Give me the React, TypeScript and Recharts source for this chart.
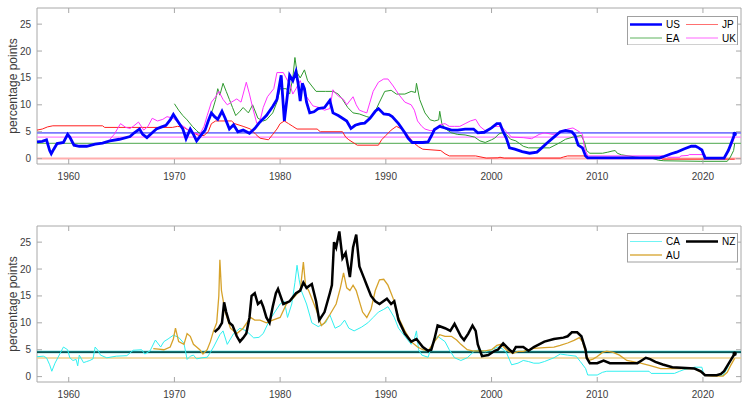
import React from 'react';
import { LineChart, Line, XAxis, YAxis, ReferenceLine, ReferenceArea } from 'recharts';

type Pt = [number, number];

const X_TICKS = [1960, 1970, 1980, 1990, 2000, 2010, 2020];
const Y_TICKS = [0, 5, 10, 15, 20, 25];
const X_DOMAIN: [number, number] = [1957, 2023.6];
const Y_DOMAIN: [number, number] = [-1, 28];
const Y_LABEL = 'percentage points';

const US: Pt[] = [[1957.0,3.1],[1957.5,3.2],[1957.9,3.5],[1958.2,1.5],[1958.35,0.9],[1958.6,1.8],[1958.9,2.8],[1959.5,3.0],[1959.9,4.5],[1960.1,4.0],[1960.5,2.5],[1961.0,2.3],[1961.7,2.3],[1962.5,2.7],[1963.2,2.9],[1963.9,3.3],[1964.8,3.6],[1965.8,4.1],[1966.2,4.8],[1966.7,5.5],[1967.0,4.5],[1967.4,3.9],[1967.9,4.8],[1968.3,5.5],[1968.8,5.9],[1969.2,6.2],[1969.6,7.2],[1969.9,8.2],[1970.3,7.0],[1970.8,5.5],[1971.1,3.7],[1971.5,5.5],[1971.8,4.5],[1972.1,3.3],[1972.5,4.3],[1972.9,5.3],[1973.2,7.0],[1973.5,8.5],[1973.8,7.8],[1974.1,7.3],[1974.5,8.8],[1974.8,7.5],[1975.2,5.5],[1975.6,6.3],[1976.0,5.0],[1976.5,5.3],[1977.1,4.7],[1977.6,5.6],[1978.0,6.6],[1978.7,8.0],[1979.3,9.7],[1979.7,11.0],[1980.1,15.5],[1980.4,7.0],[1980.7,12.0],[1980.9,15.5],[1981.2,14.5],[1981.5,16.2],[1981.7,14.0],[1981.9,10.7],[1982.1,14.0],[1982.3,13.0],[1982.5,10.5],[1982.8,8.5],[1983.2,8.7],[1983.6,9.3],[1984.2,9.5],[1984.7,10.8],[1985.0,8.5],[1985.5,8.0],[1985.9,7.5],[1986.3,7.0],[1986.7,5.6],[1987.1,6.2],[1987.6,6.5],[1988.0,6.6],[1988.5,7.5],[1989.0,8.8],[1989.3,9.3],[1989.8,8.3],[1990.3,8.2],[1990.6,7.8],[1991.2,6.5],[1991.8,4.8],[1992.1,3.8],[1992.5,3.0],[1993.0,3.0],[1993.5,3.0],[1994.0,3.1],[1994.3,4.2],[1994.6,5.4],[1995.1,6.0],[1995.6,5.7],[1996.2,5.3],[1996.8,5.3],[1997.5,5.5],[1998.3,5.5],[1998.7,4.8],[1999.3,4.9],[2000.0,5.7],[2000.5,6.5],[2000.8,6.5],[2001.1,5.0],[2001.4,3.8],[2001.7,2.0],[2002.2,1.75],[2002.9,1.3],[2003.6,1.0],[2004.3,1.2],[2004.7,1.9],[2005.2,2.8],[2005.9,4.0],[2006.5,5.0],[2007.0,5.25],[2007.6,5.0],[2007.9,4.3],[2008.2,2.5],[2008.6,2.0],[2008.9,0.5],[2009.1,0.15],[2015.9,0.15],[2016.3,0.4],[2017.0,0.9],[2017.5,1.2],[2018.2,1.8],[2018.9,2.3],[2019.3,2.3],[2019.6,2.0],[2019.9,1.6],[2020.2,0.1],[2022.0,0.1],[2022.4,1.5],[2022.7,3.0],[2023.0,4.6]];

const JP: Pt[] = [[1957.0,5.3],[1957.5,5.5],[1958.0,5.9],[1958.5,6.1],[1963.2,6.1],[1963.4,5.8],[1969.8,5.8],[1970.3,6.0],[1970.9,5.8],[1971.3,5.3],[1971.8,4.8],[1972.3,4.3],[1972.8,4.3],[1973.2,5.0],[1973.5,6.5],[1973.9,7.0],[1975.4,7.0],[1975.7,6.5],[1976.5,6.0],[1977.2,5.5],[1977.7,4.5],[1978.1,3.8],[1978.9,3.5],[1979.3,4.5],[1979.7,5.5],[1980.0,6.5],[1980.4,7.0],[1980.8,6.5],[1981.2,6.0],[1981.6,5.5],[1983.5,5.5],[1983.8,5.0],[1985.9,5.0],[1986.2,4.0],[1986.5,3.5],[1986.9,3.0],[1987.3,2.5],[1989.3,2.5],[1989.6,3.5],[1990.0,4.3],[1990.5,5.3],[1991.0,6.0],[1991.4,5.6],[1991.8,5.0],[1992.2,4.0],[1992.6,3.0],[1993.1,2.2],[1993.5,1.75],[1995.2,1.5],[1995.6,0.9],[1996.0,0.5],[1998.5,0.5],[1999.0,0.3],[1999.5,0.1],[2000.6,0.15],[2000.8,0.25],[2001.2,0.1],[2006.5,0.1],[2006.8,0.3],[2007.2,0.5],[2008.8,0.5],[2009.0,0.1],[2016.0,0.1],[2016.2,-0.1],[2023.0,-0.1]];

const EA: Pt[] = [[1970.0,10.2],[1970.4,9.0],[1970.8,8.0],[1971.2,7.2],[1971.7,6.0],[1972.1,5.2],[1972.5,4.5],[1972.9,5.5],[1973.2,7.0],[1973.6,9.0],[1973.9,11.0],[1974.1,13.0],[1974.3,11.8],[1974.6,14.0],[1974.9,12.5],[1975.2,11.0],[1975.5,9.5],[1975.8,8.0],[1976.2,8.8],[1976.5,9.5],[1977.0,8.5],[1977.4,10.0],[1977.9,7.5],[1978.4,7.0],[1978.7,7.2],[1979.3,8.5],[1979.7,10.5],[1980.0,13.0],[1980.6,13.0],[1980.9,12.0],[1981.2,15.0],[1981.4,18.8],[1981.6,16.0],[1981.9,15.0],[1982.3,16.5],[1982.6,14.5],[1983.0,13.5],[1983.4,12.5],[1984.3,12.5],[1985.0,12.5],[1985.5,12.0],[1985.9,11.0],[1986.4,9.5],[1986.9,8.5],[1987.5,8.3],[1988.2,7.8],[1988.6,7.6],[1989.0,8.8],[1989.4,10.5],[1989.9,12.5],[1990.5,12.7],[1991.0,12.0],[1991.8,12.0],[1992.4,12.5],[1992.8,12.3],[1992.9,14.0],[1993.2,11.0],[1993.7,8.5],[1994.2,7.2],[1994.6,7.0],[1995.0,7.2],[1995.1,8.8],[1995.3,6.5],[1995.6,5.6],[1996.2,4.8],[1996.8,4.5],[1997.5,4.4],[1998.4,4.0],[1998.9,3.3],[1999.4,3.0],[2000.0,3.5],[2000.3,3.8],[2000.7,4.6],[2001.0,4.8],[2001.4,4.5],[2001.8,3.6],[2002.3,3.3],[2003.0,2.3],[2003.5,2.0],[2005.5,2.0],[2006.0,2.5],[2006.5,3.0],[2007.0,3.6],[2007.7,4.0],[2008.5,4.3],[2008.8,3.0],[2009.0,1.5],[2009.3,1.0],[2010.5,1.0],[2011.0,1.2],[2011.4,1.4],[2011.7,1.5],[2011.9,1.0],[2012.3,0.7],[2013.0,0.5],[2013.6,0.3],[2014.5,0.1],[2015.2,0.05],[2015.8,-0.3],[2016.3,-0.4],[2019.8,-0.5],[2022.3,-0.5],[2022.6,0.3],[2022.9,1.5],[2023.0,2.8]];

const UK: Pt[] = [[1963.9,3.6],[1964.3,4.5],[1964.9,6.5],[1965.4,5.8],[1965.8,5.6],[1966.1,6.0],[1966.6,6.8],[1967.1,5.3],[1967.5,6.0],[1967.9,7.5],[1968.4,7.0],[1968.9,7.3],[1969.3,7.8],[1969.9,7.5],[1970.5,6.5],[1971.2,5.5],[1971.8,4.8],[1972.4,4.5],[1972.8,6.0],[1973.1,8.0],[1973.5,10.5],[1973.9,11.5],[1974.2,12.5],[1974.6,11.0],[1975.0,10.0],[1975.4,10.5],[1975.9,11.1],[1976.3,10.5],[1976.8,14.2],[1977.1,12.0],[1977.4,9.5],[1977.8,6.5],[1978.1,7.0],[1978.4,9.5],[1978.8,11.5],[1979.0,12.0],[1979.4,13.0],[1979.7,16.0],[1980.3,16.0],[1980.7,14.5],[1980.9,14.0],[1981.2,12.0],[1981.5,13.0],[1981.9,14.5],[1982.2,13.0],[1982.5,11.5],[1983.1,9.8],[1983.7,9.5],[1984.2,9.0],[1984.7,9.3],[1985.0,12.8],[1985.3,12.0],[1985.6,11.5],[1986.0,11.0],[1986.3,10.0],[1986.9,11.5],[1987.2,10.0],[1987.5,9.0],[1987.9,8.7],[1988.2,8.5],[1988.5,10.5],[1988.8,12.5],[1989.3,14.2],[1989.8,14.8],[1990.2,14.8],[1990.7,13.5],[1991.2,12.0],[1991.8,10.5],[1992.4,10.0],[1992.7,9.0],[1993.0,7.0],[1993.4,6.0],[1993.7,5.5],[1994.2,5.2],[1994.6,5.3],[1995.1,6.3],[1995.6,6.5],[1996.0,6.0],[1996.5,6.0],[1997.0,6.0],[1997.5,6.5],[1998.0,7.0],[1998.5,7.3],[1998.9,6.0],[1999.4,5.2],[1999.9,5.5],[2000.3,6.0],[2000.9,6.0],[2001.4,5.0],[2001.9,4.0],[2003.0,3.9],[2003.8,3.7],[2004.5,4.5],[2005.0,4.8],[2005.8,4.5],[2006.5,4.8],[2007.2,5.5],[2007.7,5.7],[2008.3,5.0],[2008.6,4.5],[2008.8,2.0],[2009.1,0.5],[2016.5,0.5],[2016.7,0.25],[2017.8,0.25],[2017.9,0.5],[2018.6,0.6],[2018.7,0.75],[2020.2,0.75],[2020.3,0.1],[2021.9,0.1],[2022.3,1.0],[2022.7,2.5],[2023.0,4.0]];

const CA: Pt[] = [[1957.0,3.7],[1957.6,3.8],[1957.9,3.5],[1958.2,2.2],[1958.4,1.0],[1958.7,2.5],[1959.1,4.0],[1959.5,5.5],[1959.9,5.0],[1960.1,3.5],[1960.4,3.0],[1960.7,3.2],[1960.85,2.0],[1961.0,4.0],[1961.4,2.6],[1961.7,2.8],[1962.0,3.0],[1962.3,3.3],[1962.5,5.5],[1962.8,4.8],[1963.0,4.0],[1963.6,3.5],[1964.5,3.8],[1965.5,3.9],[1966.1,4.9],[1966.9,5.0],[1967.2,4.2],[1967.7,4.8],[1968.2,6.8],[1968.7,5.5],[1969.0,6.5],[1969.4,7.0],[1969.9,7.7],[1970.4,7.3],[1970.9,6.2],[1971.2,3.2],[1971.5,3.8],[1971.8,4.0],[1972.1,3.3],[1972.6,3.5],[1973.1,3.6],[1973.4,4.5],[1973.7,5.5],[1974.3,7.8],[1974.6,8.5],[1975.0,6.0],[1975.3,7.0],[1975.6,8.0],[1976.2,9.0],[1976.8,8.5],[1977.5,7.2],[1978.0,7.3],[1978.4,8.0],[1979.0,10.5],[1979.5,12.0],[1980.0,13.5],[1980.4,14.0],[1980.7,11.0],[1981.1,13.5],[1981.4,17.5],[1981.6,20.7],[1981.8,18.0],[1982.0,16.0],[1982.5,13.5],[1983.0,10.0],[1983.6,9.3],[1984.3,10.0],[1984.7,11.5],[1985.2,9.0],[1985.7,9.5],[1986.1,10.5],[1986.5,9.0],[1987.0,8.5],[1987.7,9.2],[1988.3,10.0],[1988.8,11.0],[1989.3,12.0],[1989.8,12.5],[1990.2,13.0],[1990.8,11.0],[1991.2,9.0],[1991.8,7.5],[1992.4,6.0],[1992.7,7.0],[1992.9,8.5],[1993.1,5.0],[1993.4,4.0],[1994.0,3.6],[1994.3,5.5],[1994.9,7.5],[1995.6,6.5],[1996.0,5.0],[1996.5,3.5],[1997.1,3.0],[1997.7,3.5],[1998.4,4.8],[1998.9,5.0],[1999.4,4.6],[2000.0,5.0],[2000.6,5.5],[2001.0,5.2],[2001.4,4.5],[2001.9,2.2],[2002.5,2.5],[2003.0,3.0],[2003.5,2.8],[2004.0,2.5],[2004.5,2.5],[2005.0,2.8],[2005.9,3.5],[2006.5,4.2],[2007.2,4.0],[2008.0,3.8],[2008.4,2.8],[2008.9,1.5],[2009.1,0.3],[2010.0,0.3],[2010.5,0.8],[2010.9,1.0],[2014.9,1.0],[2015.1,0.6],[2017.3,0.6],[2017.8,1.0],[2018.2,1.3],[2018.7,1.5],[2019.2,1.75],[2019.9,1.75],[2020.1,0.25],[2021.9,0.25],[2022.3,1.5],[2022.6,3.0],[2023.0,4.5]];

const AU: Pt[] = [[1968.0,5.2],[1968.5,5.1],[1969.0,5.0],[1969.6,5.5],[1969.9,7.0],[1970.1,9.0],[1970.4,6.5],[1970.9,6.0],[1971.2,8.0],[1971.5,7.5],[1971.8,6.0],[1972.1,5.5],[1972.4,5.0],[1972.7,4.2],[1973.1,5.0],[1973.4,6.5],[1973.7,8.5],[1974.0,10.0],[1974.2,15.0],[1974.3,21.7],[1974.45,16.0],[1974.8,12.0],[1975.3,9.0],[1975.9,8.0],[1976.5,9.0],[1977.2,11.0],[1977.6,10.5],[1978.1,10.5],[1978.7,10.0],[1979.3,10.5],[1980.0,11.0],[1980.6,13.5],[1981.2,14.5],[1981.9,16.0],[1982.2,21.3],[1982.4,17.0],[1982.7,16.0],[1983.1,14.0],[1983.5,12.0],[1983.9,9.5],[1984.2,10.0],[1984.7,11.5],[1985.3,13.5],[1985.7,16.5],[1986.0,19.3],[1986.3,16.5],[1986.6,16.0],[1986.9,17.0],[1987.2,16.0],[1987.5,14.0],[1987.8,12.0],[1988.2,11.0],[1988.6,12.5],[1989.0,16.0],[1989.4,18.0],[1989.8,18.1],[1990.2,17.0],[1990.7,14.5],[1991.2,11.0],[1991.8,8.5],[1992.4,6.5],[1993.0,5.5],[1993.5,5.0],[1994.0,4.8],[1994.6,6.5],[1995.1,7.8],[1995.6,7.5],[1996.2,7.5],[1996.7,6.8],[1997.1,6.0],[1997.7,5.0],[1998.2,4.8],[1998.7,4.8],[1999.4,4.8],[2000.0,5.0],[2000.5,5.8],[2000.9,6.0],[2001.4,5.0],[2002.0,4.3],[2002.5,4.7],[2003.0,4.7],[2004.0,5.25],[2005.0,5.4],[2005.9,5.5],[2006.5,5.8],[2007.2,6.25],[2007.8,6.75],[2008.3,7.25],[2008.6,6.5],[2008.9,4.5],[2009.2,3.0],[2009.6,3.25],[2010.0,3.75],[2010.5,4.5],[2010.9,4.75],[2011.5,4.5],[2012.1,4.0],[2012.8,3.0],[2013.5,2.75],[2014.1,2.5],[2015.1,2.0],[2016.0,1.5],[2019.2,1.5],[2019.6,1.0],[2019.9,0.75],[2020.2,0.25],[2020.9,0.1],[2021.9,0.1],[2022.3,0.8],[2022.6,2.0],[2023.0,3.4]];

const NZ: Pt[] = [[1973.8,8.3],[1974.2,9.0],[1974.5,10.0],[1974.7,13.8],[1974.9,12.0],[1975.2,10.0],[1975.5,9.5],[1975.9,7.5],[1976.2,6.5],[1976.5,7.2],[1976.8,8.0],[1977.1,11.0],[1977.3,15.0],[1977.6,15.5],[1977.9,13.5],[1978.2,14.0],[1978.4,13.0],[1978.7,11.0],[1979.0,10.0],[1979.3,13.0],[1979.6,15.5],[1979.8,16.3],[1980.3,13.5],[1980.9,14.0],[1981.5,15.5],[1981.9,16.0],[1982.2,17.5],[1982.5,16.5],[1983.0,17.2],[1983.4,14.0],[1983.7,10.5],[1984.2,12.0],[1984.7,15.5],[1984.9,17.0],[1985.1,25.0],[1985.3,24.0],[1985.6,27.0],[1985.9,22.0],[1986.2,23.0],[1986.6,18.5],[1986.9,24.0],[1987.2,26.4],[1987.5,20.5],[1987.9,18.5],[1988.2,17.0],[1988.6,15.0],[1989.0,14.0],[1989.4,13.5],[1990.1,14.5],[1990.5,13.5],[1990.8,14.0],[1991.2,10.5],[1991.8,8.0],[1992.4,6.5],[1992.9,7.0],[1993.5,5.5],[1994.0,4.8],[1994.3,5.0],[1994.6,7.0],[1994.9,9.5],[1995.6,9.0],[1996.1,8.5],[1996.5,9.8],[1997.1,7.5],[1997.4,6.8],[1997.8,8.0],[1998.2,9.5],[1998.5,8.5],[1998.7,6.0],[1999.1,3.8],[1999.7,4.0],[2000.3,4.8],[2000.6,5.0],[2001.1,6.2],[2001.7,5.0],[2002.0,4.5],[2002.3,5.5],[2003.0,5.5],[2003.5,4.8],[2004.0,5.5],[2005.0,6.5],[2005.9,7.0],[2006.8,7.25],[2007.2,7.5],[2007.6,8.25],[2008.1,8.25],[2008.5,7.5],[2008.9,5.0],[2009.0,3.5],[2009.3,2.5],[2010.0,2.5],[2010.6,3.0],[2011.2,2.5],[2013.8,2.5],[2014.2,3.0],[2014.6,3.5],[2015.0,3.25],[2015.5,2.75],[2016.2,2.25],[2017.1,1.75],[2019.2,1.5],[2019.8,1.0],[2020.2,0.25],[2021.3,0.25],[2021.7,0.5],[2022.0,1.0],[2022.3,2.0],[2022.7,3.3],[2023.0,4.25]];

// long-run reference levels (horizontal lines)
const TOP_MEANS = { US: 4.8, UK: 4.0, EA: 2.85, JP: 0.0 };
const BOTTOM_MEANS = { CA: 4.58, NZ: 4.55, AU: 3.45 };

const FONT = '"Liberation Sans", Arial, Helvetica, sans-serif';
const TEXT = '#3c3c3c';
const BOX = '#a8a8a8';
const W = 742;
const PLOT_L = 37;
const PLOT_R = 741;

type Series = { name: string; data: Pt[]; color: string; width: number; dot?: boolean; opacity?: number };
type Mean = { value: number; color: string; width: number; opacity?: number };

const toRows = (d: Pt[]) => d.map(([t, v]) => ({ t, v }));

function Panel(props: {
  height: number; marginTop: number; xAxisHeight: number; series: Series[]; means: Mean[];
}) {
  const { height, marginTop, xAxisHeight, series, means } = props;
  const plotTop = marginTop;
  const plotBottom = height - xAxisHeight;
  const cy = (plotTop + plotBottom) / 2;

  const XTick = (p: any) => {
    const x = p.x;
    return (
      <g>
        <line x1={x} x2={x} y1={plotBottom} y2={plotBottom - 5} stroke={BOX} strokeWidth={1} />
        <line x1={x} x2={x} y1={plotTop} y2={plotTop + 5} stroke={BOX} strokeWidth={1} />
        <text x={x} y={plotBottom + 15.5} textAnchor="middle" fontSize={10} fontFamily={FONT} fill={TEXT}>
          {p.payload.value}
        </text>
      </g>
    );
  };
  const YTick = (p: any) => {
    const y = p.y;
    return (
      <g>
        <line x1={PLOT_L} x2={PLOT_L + 5} y1={y} y2={y} stroke={BOX} strokeWidth={1} />
        <line x1={PLOT_R} x2={PLOT_R - 5} y1={y} y2={y} stroke={BOX} strokeWidth={1} />
        <text x={31} y={y + 3.5} textAnchor="end" fontSize={10} fontFamily={FONT} fill={TEXT}>
          {p.payload.value}
        </text>
      </g>
    );
  };
  const yLabel = () => (
    <text x={17} y={cy} transform={`rotate(-90 17 ${cy})`} textAnchor="middle" fontSize={12} fontFamily={FONT} fill={TEXT}>
      {Y_LABEL}
    </text>
  );

  return (
    <LineChart width={W} height={height} margin={{ top: marginTop, right: W - PLOT_R, bottom: 0, left: 0 }}>
      <XAxis dataKey="t" type="number" domain={X_DOMAIN} ticks={X_TICKS} allowDataOverflow
        height={xAxisHeight} axisLine={false} tickLine={false} tick={XTick} interval={0} />
      <YAxis type="number" domain={Y_DOMAIN} ticks={Y_TICKS} allowDataOverflow width={PLOT_L}
        axisLine={false} tickLine={false} tick={YTick} interval={0} label={yLabel} />
      <ReferenceArea x1={X_DOMAIN[0]} x2={X_DOMAIN[1]} y1={Y_DOMAIN[0]} y2={Y_DOMAIN[1]}
        fill="#ffffff" fillOpacity={0} stroke={BOX} strokeWidth={1} />
      {means.map((m, i) => (
        <ReferenceLine key={'m' + i} y={m.value} stroke={m.color} strokeWidth={m.width} strokeOpacity={m.opacity ?? 1} />
      ))}
      {series.map((s) => {
        const rows = toRows(s.data);
        const last = rows.length - 1;
        return (
          <Line key={s.name} data={rows} dataKey="v" name={s.name} type="linear" stroke={s.color}
            strokeWidth={s.width} strokeOpacity={s.opacity ?? 1} isAnimationActive={false}
            dot={s.dot ? (dp: any) => (dp.index === last
              ? <circle key={'d' + dp.index} cx={dp.cx} cy={dp.cy} r={2.2} fill={s.color} />
              : <g key={'d' + dp.index} />) : false}
            activeDot={false} />
        );
      })}
    </LineChart>
  );
}

function LegendBox(props: { left: number; top: number; items: { name: string; color: string; width: number }[] }) {
  const { left, top, items } = props;
  const w = 110, h = 28.5;
  return (
    <svg style={{ position: 'absolute', left, top }} width={w + 1} height={h + 1}>
      <rect x={0.5} y={0.5} width={w} height={h} fill="#ffffff" stroke="#a0a0a0" strokeWidth={1} />
      {items.map((it, i) => {
        const col = i % 2, row = Math.floor(i / 2);
        const lx = col === 0 ? 3 : 59;
        const y = 8.5 + row * 13.5;
        return (
          <g key={it.name}>
            <line x1={lx} x2={lx + 32} y1={y} y2={y} stroke={it.color} strokeWidth={it.width} />
            <text x={lx + 36} y={y + 3.6} fontSize={10} fontFamily={FONT} fill="#000">{it.name}</text>
          </g>
        );
      })}
    </svg>
  );
}

const COLORS = {
  US: '#0000ff', JP: '#ff2020', EA: '#2f9a2f', UK: '#ff33ff',
  CA: '#30f0f0', AU: '#d6a22a', NZ: '#000000',
};

export default function App() {
  const topSeries: Series[] = [
    { name: 'JP', data: JP, color: COLORS.JP, width: 1 },
    { name: 'EA', data: EA, color: COLORS.EA, width: 1 },
    { name: 'UK', data: UK, color: COLORS.UK, width: 1 },
    { name: 'US', data: US, color: COLORS.US, width: 2.8, dot: true },
  ];
  const topMeans: Mean[] = [
    { value: TOP_MEANS.JP, color: '#ff9a9a', width: 2, opacity: 0.8 },
    { value: TOP_MEANS.EA, color: '#6fb86f', width: 1.2 },
    { value: TOP_MEANS.UK, color: '#ff80ff', width: 1.3 },
    { value: TOP_MEANS.US, color: '#7a7aff', width: 1.8 },
  ];
  const botSeries: Series[] = [
    { name: 'CA', data: CA, color: COLORS.CA, width: 1 },
    { name: 'AU', data: AU, color: COLORS.AU, width: 1.3 },
    { name: 'NZ', data: NZ, color: COLORS.NZ, width: 2.5, dot: true },
  ];
  const botMeans: Mean[] = [
    { value: BOTTOM_MEANS.AU, color: '#ecd08a', width: 1.5 },
    { value: BOTTOM_MEANS.CA, color: '#20c8c8', width: 2.6 },
    { value: BOTTOM_MEANS.NZ, color: '#0a2a2a', width: 1.3 },
  ];

  return (
    <div style={{ position: 'absolute', left: 0, top: 0, width: W, height: 399, background: '#ffffff', overflow: 'hidden' }}>
      <div style={{ position: 'absolute', left: 0, top: 0 }}>
        <Panel height={200} marginTop={8} xAxisHeight={36} series={topSeries} means={topMeans} />
      </div>
      <div style={{ position: 'absolute', left: 0, top: 200 }}>
        <Panel height={199} marginTop={26} xAxisHeight={17} series={botSeries} means={botMeans} />
      </div>
      <LegendBox left={627} top={15.5} items={[
        { name: 'US', color: COLORS.US, width: 2.5 },
        { name: 'JP', color: '#ff7070', width: 1 },
        { name: 'EA', color: '#5fb35f', width: 1 },
        { name: 'UK', color: '#ff66ff', width: 1 },
      ]} />
      <LegendBox left={627} top={233} items={[
        { name: 'CA', color: '#70f4f4', width: 1 },
        { name: 'NZ', color: COLORS.NZ, width: 2.5 },
        { name: 'AU', color: COLORS.AU, width: 1.3 },
      ]} />
    </div>
  );
}
